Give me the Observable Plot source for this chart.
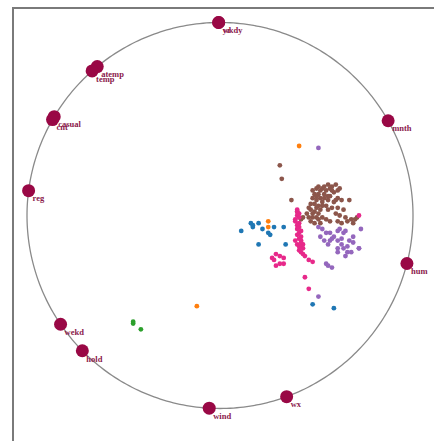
<!DOCTYPE html>
<html>
<head>
<meta charset="utf-8">
<script src="https://cdn.jsdelivr.net/npm/d3@7"></script>
<script src="https://cdn.jsdelivr.net/npm/@observablehq/plot@0.6"></script>
<style>
  html, body { margin: 0; padding: 0; background: white; overflow: hidden; }
  #frame { position: absolute; left: 12px; top: 7px; width: 600px; height: 600px; border: 2px solid #7a7a7a; z-index: 0; }
  #chart { position: absolute; left: 0; top: 0; z-index: 1; }
</style>
</head>
<body>
<div id="frame"></div>
<div id="chart"></div>
<script>
// Anchors (dimension names and their angle on the circle, degrees)
const anchorNames  = ["yr", "wkdy", "atemp", "temp", "casual", "cnt", "mnth", "reg", "hum", "wekd", "hold", "wind", "wx"];
const anchorAngles = [90.4, 90.4, 129.5, 131.5, 149.2, 150.2, 29.4, 172.6, -14.4, 214.3, 224.5, 266.8, 290.2];

// Projected points per class, in units of percent of circle radius [u, v]
const brownPts = [[31,26],[32,19],[37,8],[51,15],[54,15],[56,16],[58,15],[60,16],[48,13],[52,13],[51,11],[54,11],
  [61,9],[63,8],[67,8],[48,9],[52,9],[56,8],[59,7],[47,6],[51,5],[55,5],[58,4],[61,4],[47,3],[49,2],[52,3],[60,1],
  [62,0],[65,-1],[68,-2],[70,-2],[48,-1],[51,-2],[55,-2],[46,-1],[49,-4],[57,-3],[61,-3],[40,2],[42,-2],[43,-1],
  [63,-4],[69,-4],[66,-3],[71,-1],[59,12],[56,10],[61,13],[55,13],[57,10],[60,8],[53,7],[56,3],[64,3],[51,1],
  [50,14],[53,14],[57,14],[49,11],[50,8],[49,6],[50,4],[48,1],[50,-1],[53,-1],[52,-4],[47,-3],[53,5],[54,9],
  [58,13],[62,14],[50,10],[46,4],[45,1]];
const pinkPts = [[40,2],[40,0],[41,-1],[39,-3],[41,-4],[40,-5],[41,-6],[40,-10],[42,-11],[41,-12],[42,-13],[40,-15],
  [42,-16],[43,-17],[41,-18],[43,-20],[44,-21],[46,-23],[43,-15],[27,-22],[29,-20],[31,-21],[33,-22],[29,-26],
  [31,-25],[33,-25],[28,-23],[44,-32],[46,-38],[72,0],[48,-24],[42,-8],[40,3],
  [41,1],[39,-2],[40,-7],[41,-9],[39,-13],[42,-14],[41,-16],[42,-19]];
const purplePts = [[51,35],[51,-6],[53,-7],[55,-9],[57,-9],[61,-8],[62,-7],[64,-9],[69,-11],[58,-12],[61,-13],[63,-15],
  [66,-16],[72,-17],[56,-15],[54,-13],[69,-14],[61,-17],[64,-17],[65,-8],[73,-7],[72,-17],[65,-21],[68,-19],[61,-19],
  [55,-25],[56,-26],[58,-27],[51,-42],[52,-11],[59,-11],[67,-13],[57,-13],[63,-12],[66,-19]];
const bluePts = [[11,-8],[16,-4],[20,-4],[17,-6],[22,-7],[25,-9],[26,-10],[28,-6],[33,-6],[20,-15],[34,-15],[17,-5],[48,-46],[59,-48]];
const orangePts = [[41,36],[25,-3],[25,-6],[-12,-47]];
const greenPts = [[-45,-55],[-45,-56],[-41,-59]];

const groups = [
  {name: "blue", color: "#1f77b4", pts: bluePts},
  {name: "orange", color: "#ff7f0e", pts: orangePts},
  {name: "green", color: "#2ca02c", pts: greenPts},
  {name: "brown", color: "#8c564b", pts: brownPts},
  {name: "purple", color: "#9467bd", pts: purplePts},
  {name: "pink", color: "#e7298a", pts: pinkPts}
];

const rad = d => d * Math.PI / 180;
const anchors = anchorNames.map((n, i) => ({name: n, x: 100 * Math.cos(rad(anchorAngles[i])), y: 100 * Math.sin(rad(anchorAngles[i]))}));
const points = groups.flatMap(g => g.pts.map(([u, v]) => ({u, v, color: g.color})));
const ring = d3.range(0, 361, 1).map(a => ({x: 100 * Math.cos(rad(a)), y: 100 * Math.sin(rad(a))}));

const chart = Plot.plot({
  width: 434,
  height: 441,
  marginLeft: 26.5,
  marginRight: 21.5,
  marginTop: 22,
  marginBottom: 33,
  style: {background: "transparent"},
  x: {domain: [-100, 100], axis: null},
  y: {domain: [-100, 100], axis: null},
  marks: [
    Plot.line(ring, {x: "x", y: "y", stroke: "#8a8a8a", strokeWidth: 1.3}),
    Plot.dot(points, {x: "u", y: "v", fill: d => d.color, r: 2.4, stroke: "none"}),
    Plot.dot(anchors, {x: "x", y: "y", fill: "#990845", r: 6.5, stroke: "none"}),
    Plot.text(anchors, {x: "x", y: "y", text: "name", textAnchor: "start", dx: 4, dy: 8,
      fill: "#8b1a4c", fontSize: 8.5, fontWeight: "bold", fontFamily: "Liberation Serif"})
  ]
});
document.getElementById("chart").appendChild(chart);
</script>
</body>
</html>
